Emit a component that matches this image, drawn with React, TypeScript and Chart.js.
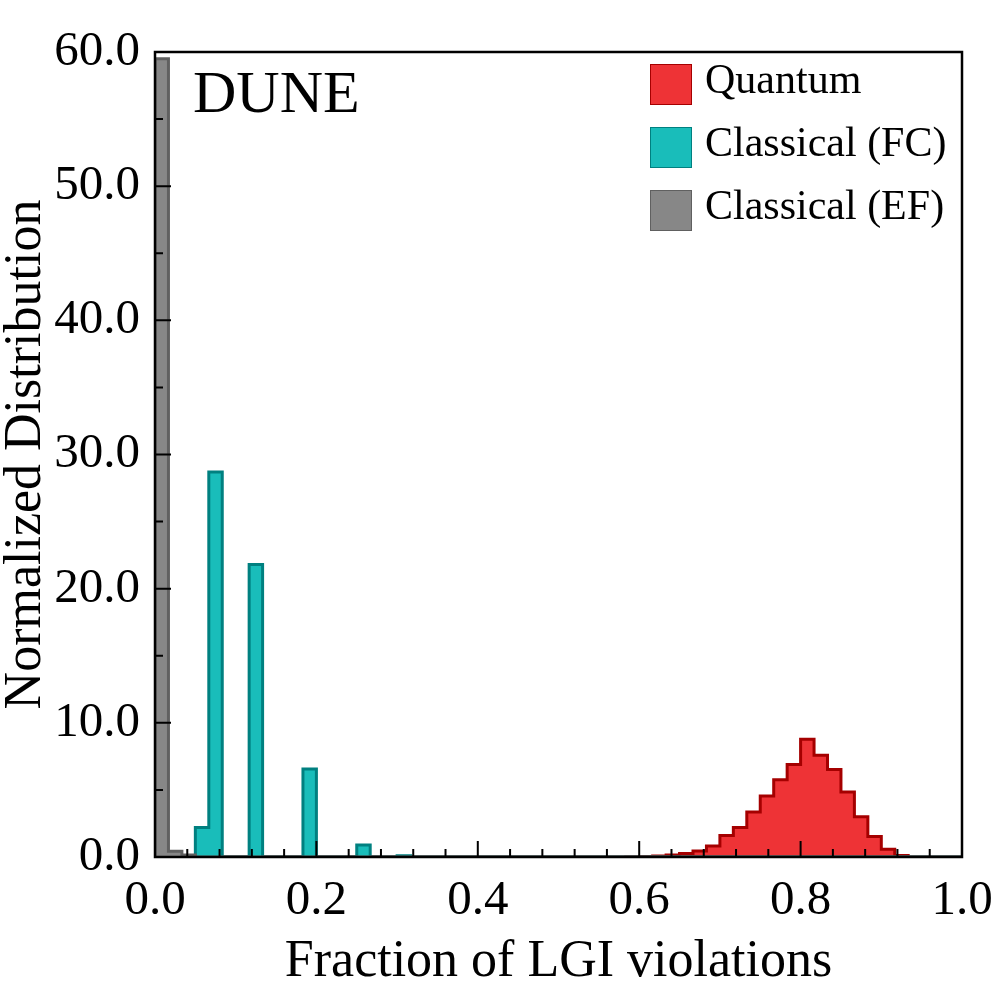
import React, { useEffect, useRef } from 'react';
import { Chart, registerables } from 'chart.js';

Chart.register(...registerables);

// 60 bins of width 1/60 on [0, 1]
const BIN_COUNT = 60;

const quantum = [
  0, 0, 0, 0, 0, 0, 0, 0, 0, 0,
  0, 0, 0, 0, 0, 0, 0, 0, 0, 0,
  0, 0, 0, 0, 0, 0, 0, 0, 0, 0,
  0, 0, 0, 0, 0, 0.02, 0.03, 0.07, 0.15, 0.27,
  0.45, 0.82, 1.61, 2.19, 3.35, 4.55, 5.76, 6.9, 8.77, 7.58,
  6.53, 4.84, 3.0, 1.52, 0.57, 0.12, 0, 0, 0, 0,
];

const classicalFC = [
  0.1, 0.1, 0, 2.2, 28.7, 0, 0, 21.8, 0, 0,
  0, 6.55, 0, 0, 0, 0.9, 0, 0, 0.1, 0,
  0, 0, 0, 0, 0, 0, 0, 0, 0, 0,
  0, 0, 0, 0, 0, 0, 0, 0, 0, 0,
  0, 0, 0, 0, 0, 0, 0, 0, 0, 0,
  0, 0, 0, 0, 0, 0, 0, 0, 0, 0,
];

const classicalEF = [
  59.5, 0.42, 0.15, 0, 0, 0, 0, 0, 0, 0,
  0, 0, 0, 0, 0, 0, 0, 0, 0, 0,
  0, 0, 0, 0, 0, 0, 0, 0, 0, 0,
  0, 0, 0, 0, 0, 0, 0, 0, 0, 0,
  0, 0, 0, 0, 0, 0, 0, 0, 0, 0,
  0, 0, 0, 0, 0, 0, 0, 0, 0, 0,
];

const legendLabels = ['Quantum', 'Classical (FC)', 'Classical (EF)'];
const fills = ['#ee3336', '#19bdba', '#878787'];
const edges = ['#a50000', '#008080', '#606060'];

const SERIF = "'Liberation Serif', 'Times New Roman', serif";

// turn bin heights into step points at the bin edges
function toSteps(values: number[]) {
  const pts = [{ x: 0, y: 0 }];
  values.forEach((v, k) => pts.push({ x: k / BIN_COUNT, y: v }));
  pts.push({ x: 1, y: 0 });
  return pts;
}

const frameTicks = {
  id: 'frameTicks',
  afterDatasetsDraw(chart: any) {
    const { ctx, chartArea: a, scales } = chart;
    const x = scales.x;
    const y = scales.y;
    ctx.save();
    ctx.strokeStyle = '#000';
    ctx.lineWidth = 2;
    ctx.beginPath();
    for (let i = 0; i <= 25; i++) {
      const px = x.getPixelForValue(i * 0.04);
      const len = i % 5 === 0 ? 16 : 8;
      ctx.moveTo(px, a.bottom);
      ctx.lineTo(px, a.bottom - len);
    }
    for (let i = 0; i <= 12; i++) {
      const py = y.getPixelForValue(i * 5);
      const len = i % 2 === 0 ? 16 : 8;
      ctx.moveTo(a.left, py);
      ctx.lineTo(a.left + len, py);
    }
    ctx.stroke();
    ctx.lineWidth = 2.5;
    ctx.strokeRect(a.left, a.top, a.right - a.left, a.bottom - a.top);
    ctx.restore();
  },
  afterDraw(chart: any) {
    const { ctx, chartArea: a } = chart;
    ctx.save();
    ctx.fillStyle = '#000';
    ctx.textAlign = 'left';
    ctx.textBaseline = 'alphabetic';
    ctx.font = `60px ${SERIF}`;
    ctx.fillText('DUNE', a.left + 38, a.top + 60);

    ctx.font = `42px ${SERIF}`;
    legendLabels.forEach((label, i) => {
      const top = a.top + 12 + i * 63;
      const left = a.right - 312;
      ctx.fillStyle = fills[i];
      ctx.fillRect(left, top, 42, 41);
      ctx.strokeStyle = edges[i];
      ctx.lineWidth = 1;
      ctx.strokeRect(left + 0.5, top + 0.5, 41, 40);
      ctx.fillStyle = '#000';
      ctx.fillText(label, left + 55, top + 29);
    });
    ctx.restore();
  },
};

export default function App() {
  const canvasRef = useRef<HTMLCanvasElement>(null);
  const chartRef = useRef<Chart | null>(null);

  useEffect(() => {
    if (!canvasRef.current) return;
    if (chartRef.current) chartRef.current.destroy();

    const series = [quantum, classicalFC, classicalEF];

    chartRef.current = new Chart(canvasRef.current, {
      type: 'line',
      data: {
        datasets: series.map((values, i) => ({
          label: legendLabels[i],
          data: toSteps(values),
          stepped: true,
          fill: 'origin',
          backgroundColor: fills[i],
          borderColor: edges[i],
          borderWidth: 3,
          pointRadius: 0,
          tension: 0,
          order: 3 - i,
        })),
      },
      options: {
        animation: false,
        responsive: true,
        maintainAspectRatio: false,
        devicePixelRatio: 1,
        layout: { padding: { top: 52, right: 34, left: 0, bottom: 0 } },
        plugins: {
          legend: { display: false },
          tooltip: { enabled: false },
        },
        scales: {
          x: {
            type: 'linear',
            min: 0,
            max: 1,
            grid: { display: false },
            border: { display: false },
            ticks: {
              stepSize: 0.2,
              color: '#000',
              padding: 7,
              maxRotation: 0,
              font: { family: SERIF, size: 49 },
              callback: (v: any) => Number(v).toFixed(1),
            },
            title: {
              display: true,
              text: 'Fraction of LGI violations',
              color: '#000',
              padding: { top: 0, bottom: 8 },
              font: { family: SERIF, size: 52, lineHeight: 1 },
            },
            afterFit: (scale: any) => {
              scale.height = 139;
              scale.paddingLeft = 0;
              scale.paddingRight = 0;
            },
          },
          y: {
            min: 0,
            max: 60,
            grid: { display: false },
            border: { display: false },
            ticks: {
              stepSize: 10,
              color: '#000',
              padding: 7,
              font: { family: SERIF, size: 49 },
              callback: (v: any) => Number(v).toFixed(1),
            },
            title: {
              display: true,
              text: 'Normalized Distribution',
              color: '#000',
              padding: { top: 0, bottom: 0 },
              font: { family: SERIF, size: 52, lineHeight: 1 },
            },
            afterFit: (scale: any) => {
              scale.width = 155;
            },
          },
        },
      },
      plugins: [frameTicks],
    });

    return () => {
      if (chartRef.current) {
        chartRef.current.destroy();
        chartRef.current = null;
      }
    };
  }, []);

  return (
    <div style={{ position: 'fixed', left: 0, top: 0, width: 996, height: 996, background: '#fff' }}>
      <canvas ref={canvasRef} />
    </div>
  );
}
